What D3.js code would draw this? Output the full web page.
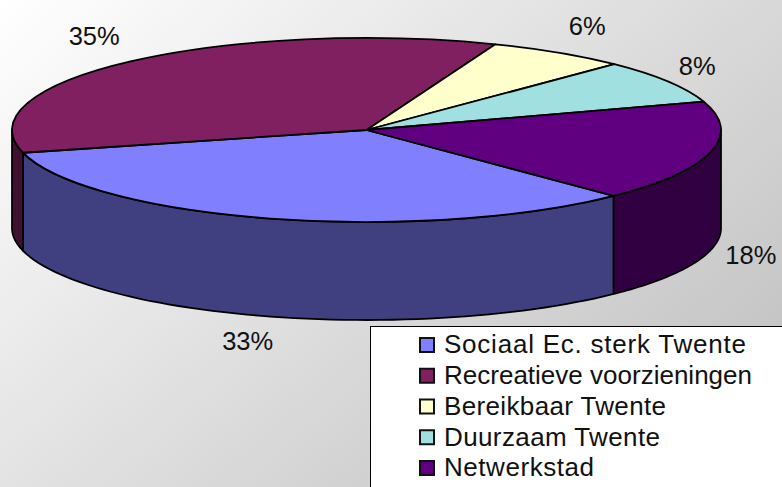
<!DOCTYPE html>
<html>
<head>
<meta charset="utf-8">
<script src="https://cdnjs.cloudflare.com/ajax/libs/d3/7.8.5/d3.min.js"></script>
<style>
  html, body { margin: 0; padding: 0; background: #fff; }
  svg { display: block; }
  text { font-family: "Liberation Sans", Arial, sans-serif; fill: #111; }
</style>
</head>
<body>
<div id="chart"></div>
<script>
// Data
const categories = ['Sociaal Ec. sterk Twente', 'Recreatieve voorzieningen', 'Bereikbaar Twente', 'Duurzaam Twente', 'Netwerkstad'];
const shares = [33.3, 34.9, 6.4, 7.7, 17.7];
const topColors = ['#8080ff', '#802060', '#ffffcc', '#a0e0e0', '#600080'];
const sideColors = ['#404080', '#401030', '#808066', '#507070', '#300040'];

// Layout
const width = 782, height = 487;
const cx = 366.5, cy = 130, rx = 354.5, ry = 92, depth = 98;
const labelRx = [438, 411, 407, 389, 396];
const labelRy = [117, 126, 124, 121, 113];
const legendTextWidths = [302, 308, 222, 216, 150];
const startAngle = 135.8 * Math.PI / 180;

const svg = d3.select('#chart').append('svg').attr('width', width).attr('height', height);

// background gradient, white top left to grey bottom right
const grad = svg.append('defs').append('linearGradient')
  .attr('id', 'bg').attr('gradientUnits', 'userSpaceOnUse')
  .attr('x1', 0).attr('y1', 0).attr('x2', 578).attr('y2', 664);
grad.append('stop').attr('offset', 0).attr('stop-color', '#ffffff');
grad.append('stop').attr('offset', 1).attr('stop-color', '#bcbcbc');
svg.append('rect').attr('width', width).attr('height', height).attr('fill', 'url(#bg)');

const pie = d3.pie().sort(null).startAngle(startAngle).endAngle(startAngle + 2 * Math.PI);
const slices = pie(shares);

// d3 pie angles start at 12 o'clock, so shift to get screen angle
const px = a => cx + rx * Math.sin(a);
const py = a => cy - ry * Math.cos(a);

// front wall of the cake: visible where the rim runs along the bottom half
function wallPath(a0, a1) {
  const steps = d3.range(0, 61).map(i => a0 + (a1 - a0) * i / 60);
  const top = steps.map(a => [px(a), py(a)]);
  const bottom = steps.slice().reverse().map(a => [px(a), py(a) + depth]);
  return d3.line()(top.concat(bottom)) + 'Z';
}

const walls = [];
slices.forEach((s, i) => {
  [0, 2 * Math.PI].forEach(turn => {
    const a0 = Math.max(s.startAngle, Math.PI / 2 + turn);
    const a1 = Math.min(s.endAngle, 3 * Math.PI / 2 + turn);
    if (a1 > a0) walls.push({ i, a0, a1 });
  });
});

svg.append('g').selectAll('path').data(walls).enter().append('path')
  .attr('d', d => wallPath(d.a0, d.a1))
  .attr('fill', d => sideColors[d.i])
  .attr('stroke', '#000').attr('stroke-width', 1.8).attr('stroke-linejoin', 'round');

// top face: circular arcs squashed into an ellipse
const arc = d3.arc().innerRadius(0).outerRadius(rx);
svg.append('g')
  .attr('transform', `translate(${cx},${cy}) scale(1,${ry / rx})`)
  .selectAll('path').data(slices).enter().append('path')
  .attr('d', arc)
  .attr('fill', (d, i) => topColors[i])
  .attr('stroke', '#000').attr('stroke-width', 1.8).attr('stroke-linejoin', 'round')
  .attr('vector-effect', 'non-scaling-stroke');

// percentage labels
svg.append('g').selectAll('text').data(slices).enter().append('text')
  .attr('x', (d, i) => cx + labelRx[i] * Math.sin((d.startAngle + d.endAngle) / 2))
  .attr('y', (d, i) => {
    const mid = (d.startAngle + d.endAngle) / 2;
    return cy - labelRy[i] * Math.cos(mid) + (Math.cos(mid) < 0 ? depth : 0);
  })
  .attr('dy', '0.36em')
  .attr('text-anchor', 'middle')
  .style('font-size', '25.5px')
  .text(d => Math.round(d.data) + '%');

// legend
const legendX = 370.5, legendY = 326.5;
svg.append('rect').attr('x', legendX).attr('y', legendY)
  .attr('width', width - legendX + 5).attr('height', height - legendY + 5)
  .attr('fill', '#fff').attr('stroke', '#000').attr('stroke-width', 1);

const rowY = d3.scalePoint().domain(categories).range([344, 467]);
const rows = svg.append('g').selectAll('g').data(categories).enter().append('g')
  .attr('transform', d => `translate(0,${rowY(d)})`);
rows.append('rect').attr('x', 420).attr('y', -6).attr('width', 14).attr('height', 14)
  .attr('fill', (d, i) => topColors[i])
  .attr('stroke', '#111').attr('stroke-width', 2);
rows.append('text').attr('x', 444).attr('y', 0).attr('dy', '0.36em')
  .attr('textLength', (d, i) => legendTextWidths[i])
  .attr('lengthAdjust', 'spacing')
  .style('font-size', '26px')
  .text(d => d);
</script>
</body>
</html>
